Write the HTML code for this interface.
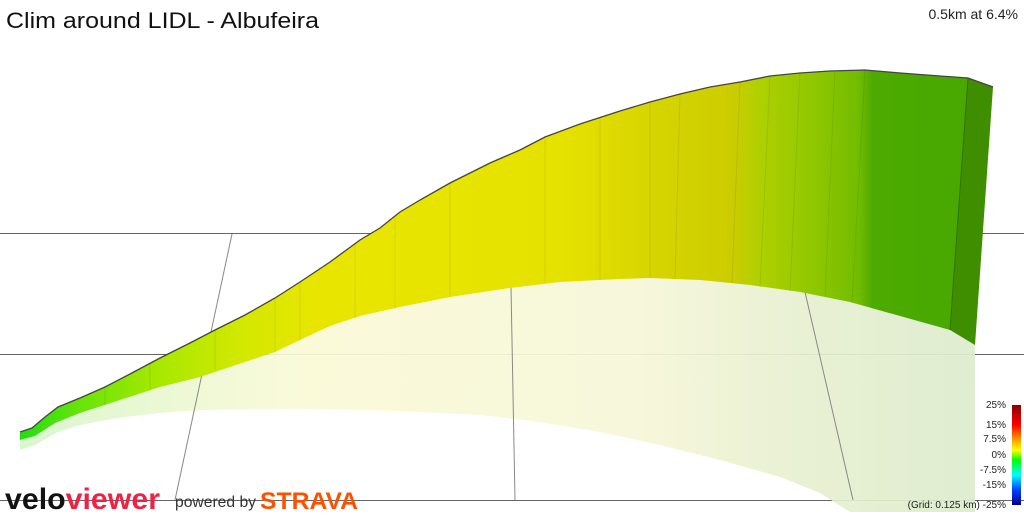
<!DOCTYPE html>
<html><head><meta charset="utf-8"><style>
body{margin:0;width:1024px;height:512px;overflow:hidden;background:#fff;font-family:"Liberation Sans",sans-serif}
</style></head><body>
<svg width="1024" height="512" viewBox="0 0 1024 512" xmlns="http://www.w3.org/2000/svg">
<defs>
<linearGradient id="g" x1="20" x2="995" y1="0" y2="0" gradientUnits="userSpaceOnUse">
<stop offset="0" stop-color="#22dd10"/>
<stop offset="0.06" stop-color="#66e40a"/>
<stop offset="0.14" stop-color="#a6e800"/>
<stop offset="0.22" stop-color="#d0e800"/>
<stop offset="0.30" stop-color="#e8e600"/>
<stop offset="0.55" stop-color="#e6e200"/>
<stop offset="0.64" stop-color="#d8d600"/>
<stop offset="0.73" stop-color="#cccc00"/>
<stop offset="0.76" stop-color="#aed000"/>
<stop offset="0.82" stop-color="#8cc600"/>
<stop offset="0.86" stop-color="#72bc00"/>
<stop offset="0.875" stop-color="#4caa00"/>
<stop offset="1" stop-color="#48a800"/>
</linearGradient>
<linearGradient id="s" x1="20" x2="975" y1="0" y2="0" gradientUnits="userSpaceOnUse">
<stop offset="0" stop-color="#d6f6cc"/>
<stop offset="0.2" stop-color="#f0f8d2"/>
<stop offset="0.3" stop-color="#fafad6"/>
<stop offset="0.65" stop-color="#f6f6d8"/>
<stop offset="0.8" stop-color="#e8f0d0"/>
<stop offset="1" stop-color="#dcebcc"/>
</linearGradient>
<linearGradient id="lg" x1="0" x2="0" y1="0" y2="1">
<stop offset="0" stop-color="#8b0000"/>
<stop offset="0.2" stop-color="#ff0000"/>
<stop offset="0.35" stop-color="#ffa000"/>
<stop offset="0.45" stop-color="#ffff00"/>
<stop offset="0.55" stop-color="#00ff00"/>
<stop offset="0.7" stop-color="#00ffff"/>
<stop offset="0.85" stop-color="#0040ff"/>
<stop offset="1" stop-color="#00008b"/>
</linearGradient>
</defs>
<g stroke="#666" stroke-width="1">
<line x1="0" y1="233.5" x2="1024" y2="233.5"/>
<line x1="0" y1="354.5" x2="1024" y2="354.5"/>
<line x1="0" y1="500.5" x2="1024" y2="500.5"/>
</g>
<path fill="url(#s)" opacity="0.92" d="M20,440 L35,436 L55,423 L80,413 L117,401 L160,387 L200,377 L245,362 L275,352 L300,340 L330,326 L360,316 L400,307 L450,297 L510,288 L560,282 L620,279 L650,278 L700,280 L750,285 L800,292 L850,302 L900,316 L950,330 L975,345 L975,512 L850,512 L820,493 L780,477 L720,460 L660,445 L600,432 L540,422 L480,415 L400,411 L300,409 L200,410 L160,413 L117,418 L80,425 L58,432 L35,445 L20,450 Z"/>
<g stroke="#888" stroke-width="1">
<line x1="232" y1="234" x2="175" y2="500"/>
<line x1="511" y1="287" x2="515" y2="500"/>
<line x1="805" y1="292" x2="853" y2="500"/>
</g>
<path fill="url(#g)" d="M20,432 L32,428 L45,417 L58,407 L80,398 L105,387 L130,374 L160,358 L190,343 L215,330 L245,315 L275,298 L300,282 L330,262 L360,240 L380,228 L400,212 L420,200 L450,183 L490,163 L520,150 L545,137 L580,124 L620,111 L650,102 L680,94 L710,87 L740,82 L770,76 L800,73 L830,71 L865,70 L900,73 L940,76 L968,78 L950,330 L900,316 L850,302 L800,292 L750,285 L700,280 L650,278 L620,279 L560,282 L510,288 L450,297 L400,307 L360,316 L330,326 L300,340 L275,352 L245,362 L200,377 L160,387 L117,401 L80,413 L55,423 L35,436 L20,440 Z"/>
<g stroke="rgba(0,0,0,0.08)" stroke-width="1">
<line x1="105" y1="387" x2="105" y2="405"/><line x1="150" y1="363" x2="150" y2="390"/><line x1="215" y1="330" x2="215" y2="370"/><line x1="275" y1="298" x2="275" y2="352"/><line x1="300" y1="282" x2="300" y2="340"/><line x1="355" y1="243" x2="355" y2="318"/><line x1="395" y1="215" x2="395" y2="309"/><line x1="450" y1="183" x2="450" y2="297"/><line x1="545" y1="137" x2="545" y2="283"/><line x1="600" y1="117" x2="600" y2="280"/><line x1="650" y1="102" x2="650" y2="278"/><line x1="680" y1="94" x2="675" y2="279"/><line x1="740" y1="82" x2="732" y2="283"/><line x1="770" y1="76" x2="760" y2="287"/><line x1="800" y1="73" x2="790" y2="291"/><line x1="835" y1="71" x2="825" y2="297"/><line x1="865" y1="70" x2="852" y2="303"/>
</g>
<path fill="#3e8e00" d="M968,78 L993,87 L975,345 L950,330 Z"/>
<line x1="968" y1="78" x2="950" y2="330" stroke="#2f7400" stroke-width="1"/>
<path fill="none" stroke="#444" stroke-width="1.3" d="M20,432 L32,428 L45,417 L58,407 L80,398 L105,387 L130,374 L160,358 L190,343 L215,330 L245,315 L275,298 L300,282 L330,262 L360,240 L380,228 L400,212 L420,200 L450,183 L490,163 L520,150 L545,137 L580,124 L620,111 L650,102 L680,94 L710,87 L740,82 L770,76 L800,73 L830,71 L865,70 L900,73 L940,76 L968,78 L993,87"/>
<text x="6" y="28" font-size="22" fill="#111" textLength="313" lengthAdjust="spacingAndGlyphs">Clim around LIDL - Albufeira</text>
<text x="1018" y="19" font-size="14" fill="#222" text-anchor="end">0.5km at 6.4%</text>
<g font-size="10" fill="#222" text-anchor="end">
<text x="1006" y="408">25%</text><text x="1006" y="428">15%</text><text x="1006" y="442">7.5%</text><text x="1006" y="458">0%</text><text x="1006" y="473">-7.5%</text><text x="1006" y="488">-15%</text><text x="1006" y="508">(Grid: 0.125 km) -25%</text>
</g>
<rect x="1012" y="405" width="9" height="100" fill="url(#lg)"/>
<text x="5" y="509" font-size="30" font-weight="bold" fill="#111" textLength="155" lengthAdjust="spacingAndGlyphs">velo<tspan fill="#ee2244">viewer</tspan></text>
<text x="175" y="507" font-size="16" fill="#333" textLength="81" lengthAdjust="spacingAndGlyphs">powered by</text>
<text x="260" y="509" font-size="24" font-weight="bold" fill="#fc5200" textLength="98" lengthAdjust="spacingAndGlyphs">STRAVA</text>
</svg>
</body></html>
